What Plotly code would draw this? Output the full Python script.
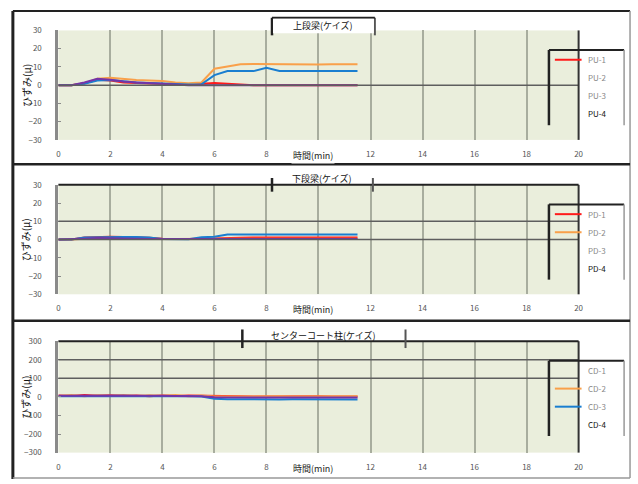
import plotly.graph_objects as go

W, H = 638, 484

# ---------------- data ----------------
time_min = [0, 0.5, 1, 1.5, 2, 2.5, 3, 3.5, 4, 4.5, 5, 5.5, 6, 6.5, 7, 7.5, 8, 8.5, 9, 9.5, 10, 10.5, 11, 11.5]

panel_titles = ["上段梁(ケイズ)", "下段梁(ケイズ)", "センターコート柱(ケイズ)"]
series_names = [["PU-1", "PU-2", "PU-3", "PU-4"],
                ["PD-1", "PD-2", "PD-3", "PD-4"],
                ["CD-1", "CD-2", "CD-3", "CD-4"]]
series_colors = ["#FF1A1A", "#F9A04A", "#1A7ED0", "#7434A8"]

# panel 1 (upper beam)
pu1 = [0, 0, 1.0, 3.0, 2.5, 1.5, 1.2, 1.0, 0.5, 0.3, 0.2, 0.8, 1.2, 0.8, 0.2, 0, 0, 0, 0, 0, 0, 0, 0, 0]
pu2 = [0, 0, 1.0, 3.5, 4.0, 3.2, 2.8, 2.5, 2.3, 1.5, 1.0, 1.5, 9.0, 10.2, 11.5, 11.6, 11.5, 11.4, 11.6, 11.5, 11.3, 11.5, 11.6, 11.5]
pu3 = [0, 0, 0.8, 2.5, 2.8, 2.0, 1.5, 1.2, 0.8, 0.5, 0.3, 0.5, 5.5, 7.7, 7.7, 7.7, 9.5, 7.8, 7.7, 7.7, 7.7, 7.7, 7.7, 7.7]
pu4 = [0, 0, 1.5, 3.5, 3.0, 2.0, 1.5, 1.0, 0.6, 0.3, 0, 0, 0.3, 0, 0, 0, 0, 0, 0, 0, 0, 0, 0, 0]
# panel 2 (lower beam)
pd1 = [0, 0, 1.2, 1.5, 1.5, 1.4, 1.3, 1.0, 0.5, 0.3, 0.3, 0.5, 0.8, 0.8, 1.0, 1.2, 1.2, 1.2, 1.2, 1.2, 1.2, 1.2, 1.2, 1.2]
pd2 = [0, 0, 0.5, 0.8, 0.8, 0.8, 0.5, 0.5, 0.3, 0.3, 0.5, 0.5, 0.5, 0.5, 0.5, 0.5, 0.5, 0.5, 0.5, 0.5, 0.5, 0.5, 0.5, 0.5]
pd3 = [0, 0, 1.2, 1.4, 1.4, 1.4, 1.4, 1.2, 0.3, 0.2, 0.2, 1.3, 1.5, 2.8, 2.8, 2.8, 2.8, 2.8, 2.8, 2.8, 2.8, 2.8, 2.8, 2.8]
pd4 = [0, 0.1, 0.5, 0.8, 0.8, 0.6, 0.5, 0.3, 0.2, 0.2, 0.2, 0.3, 0.3, 0.3, 0.3, 0.3, 0.3, 0.3, 0.3, 0.3, 0.3, 0.3, 0.3, 0.3]
# panel 3 (center column)
cd1 = [8, 5, 10, 6, 9, 5, 8, 4, 7, 5, 8, 6, 3, 2, 3, 2, 3, 2, 3, 2, 3, 2, 3, 2]
cd2 = [5, 10, 4, 9, 6, 10, 5, 9, 6, 10, 4, 8, 2, 3, 2, 3, 2, 3, 2, 3, 2, 3, 2, 3]
cd3 = [3, 4, 5, 3, 4, 5, 3, 4, 5, 3, 4, 2, -10, -12, -13, -13, -14, -14, -13, -14, -14, -13, -14, -14]
cd4 = [6, 7, 8, 6, 7, 8, 6, 7, 6, 5, 6, 3, -2, -3, -3, -3, -3, -3, -3, -3, -3, -3, -3, -3]

panel_series = [[pu1, pu2, pu3, pu4], [pd1, pd2, pd3, pd4], [cd1, cd2, cd3, cd4]]

y_ranges = [[-30, 30], [-30, 30], [-300, 300]]
y_ticks = [[-30, -20, -10, 0, 10, 20, 30], [-30, -20, -10, 0, 10, 20, 30],
           [-300, -200, -100, 0, 100, 200, 300]]
h_lines = [[0], [10, 0], [200, 100]]
x_ticks = [0, 2, 4, 6, 8, 10, 12, 14, 16, 18, 20]
x_tick_labels = ["0", "2", "4", "6", "8", "", "12", "14", "16", "18", "20"]  # "10" hidden under axis title
legend_visible = [[0], [0, 1], [1, 2]]   # which legend entries show a line sample

x_title = "時間(min)"
y_title = "ひずみ(μ)"

# ---------------- layout geometry (pixels) ----------------
def px(x):
    return x / W

def py(y):
    return 1 - y / H

plot_left, plot_right = 57, 583
panel_tops = [25, 183, 343]
panel_bottoms = [137, 295, 457]

FONT = "Noto Sans CJK JP, Liberation Sans, sans-serif"

fig = go.Figure()
shapes = []
annotations = []

for i in range(3):
    sfx = "" if i == 0 else str(i + 1)
    xa, ya = "x" + sfx, "y" + sfx
    for k in range(4):
        fig.add_trace(go.Scatter(
            x=time_min, y=panel_series[i][k], mode="lines", name=series_names[i][k],
            line=dict(color=series_colors[k], width=2), xaxis=xa, yaxis=ya, showlegend=False))
    fig.layout["xaxis" + sfx] = dict(
        domain=[px(plot_left), px(plot_right)], range=[0, 20], tickvals=x_ticks, ticktext=x_tick_labels,
        showgrid=True, gridcolor="#A8AD9E", gridwidth=1.5, zeroline=False,
        showline=False, ticks="", anchor=ya,
        tickfont=dict(size=8, color="#555", family=FONT), ticklabelstandoff=8)
    fig.layout["yaxis" + sfx] = dict(
        domain=[py(panel_bottoms[i]), py(panel_tops[i])], range=y_ranges[i], tickvals=y_ticks[i],
        showgrid=False, zeroline=False, showline=True, linecolor="#8A8A8A", linewidth=3,
        ticks="inside", ticklen=3, tickcolor="#8A8A8A", anchor=xa,
        tickfont=dict(size=8, color="#555", family=FONT), ticklabelstandoff=12)
    # horizontal reference lines
    for hv in h_lines[i]:
        shapes.append(dict(type="line", xref=xa + " domain", yref=ya, x0=0, x1=1, y0=hv, y1=hv,
                           line=dict(color="#5E5E5E", width=1.5), layer="above"))
    # right border of plot
    shapes.append(dict(type="line", xref="paper", yref="paper", x0=px(plot_right), x1=px(plot_right),
                       y0=py(panel_bottoms[i]), y1=py(panel_tops[i]), line=dict(color="#333", width=2)))
    if i > 0:
        shapes.append(dict(type="line", xref="paper", yref="paper", x0=px(plot_left), x1=px(plot_right),
                           y0=py(panel_tops[i]), y1=py(panel_tops[i]), line=dict(color="#222", width=2)))
    # y axis title
    annotations.append(dict(text=y_title, xref="paper", yref="paper", x=px(24),
                            y=py((panel_tops[i] + panel_bottoms[i]) / 2), xanchor="center", yanchor="middle",
                            textangle=-90, showarrow=False,
                            font=dict(size=10, color="#111", family=FONT)))
    # x axis title
    annotations.append(dict(text=x_title, xref="paper", yref="paper", x=px(314),
                            y=py(panel_bottoms[i] + 16), xanchor="center", yanchor="middle",
                            showarrow=False, bgcolor="white",
                            font=dict(size=9, color="#222", family=FONT)))
    # legend box
    top = panel_tops[i]
    lt, lb = top + 20, top + 97
    shapes.append(dict(type="line", xref="paper", yref="paper", x0=px(553), x1=px(553),
                       y0=py(lt), y1=py(lb), line=dict(color="#222", width=2.5)))
    shapes.append(dict(type="line", xref="paper", yref="paper", x0=px(553), x1=px(629),
                       y0=py(lt), y1=py(lt), line=dict(color="#222", width=2)))
    shapes.append(dict(type="line", xref="paper", yref="paper", x0=px(629), x1=px(629),
                       y0=py(lt), y1=py(lb), line=dict(color="#999", width=1.5)))
    for k in range(4):
        ey = top + 30 + k * 18.5
        if k in legend_visible[i]:
            shapes.append(dict(type="line", xref="paper", yref="paper", x0=px(559), x1=px(586),
                               y0=py(ey), y1=py(ey), line=dict(color=series_colors[k], width=2)))
        annotations.append(dict(text=series_names[i][k], xref="paper", yref="paper", x=px(590), y=py(ey),
                                xanchor="left", yanchor="middle", showarrow=False,
                                font=dict(size=8, color="#111" if k == 3 else "#888", family=FONT)))

# title boxes
title_boxes = [(273, 377, 12, 30, 20), (273, 375, 176, 190, 177), (243, 408, 331, 350, 337)]
for i, (x0, x1, y0, y1, ty) in enumerate(title_boxes):
    shapes.append(dict(type="line", xref="paper", yref="paper", x0=px(x0), x1=px(x0),
                       y0=py(y0), y1=py(y1), line=dict(color="#222", width=2.5)))
    shapes.append(dict(type="line", xref="paper", yref="paper", x0=px(x1), x1=px(x1),
                       y0=py(y0), y1=py(y1), line=dict(color="#555", width=2)))
    if i == 0:
        shapes.append(dict(type="line", xref="paper", yref="paper", x0=px(x0), x1=px(x1),
                           y0=py(y0), y1=py(y0), line=dict(color="#222", width=2)))
        shapes.append(dict(type="rect", xref="paper", yref="paper", x0=px(x0 + 1), x1=px(x1 - 1),
                           y0=py(y1 - 2), y1=py(y0 + 1), fillcolor="white", line=dict(width=0)))
    annotations.append(dict(text=panel_titles[i], xref="paper", yref="paper", x=px((x0 + x1) / 2),
                            y=py(ty), xanchor="center", yanchor="middle", showarrow=False,
                            font=dict(size=9, color="#111", family=FONT)))

# outer frame and dividers
shapes.append(dict(type="line", xref="paper", yref="paper", x0=px(11), x1=px(11), y0=py(5), y1=py(484),
                   line=dict(color="#222", width=3)))
shapes.append(dict(type="line", xref="paper", yref="paper", x0=px(11), x1=px(635), y0=py(5), y1=py(5),
                   line=dict(color="#222", width=2)))
shapes.append(dict(type="line", xref="paper", yref="paper", x0=px(635), x1=px(635), y0=py(5), y1=py(483),
                   line=dict(color="#999", width=1.5)))
for yy in (162, 322):
    shapes.append(dict(type="line", xref="paper", yref="paper", x0=px(11), x1=px(635), y0=py(yy), y1=py(yy),
                       line=dict(color="#222", width=2.5)))
shapes.append(dict(type="line", xref="paper", yref="paper", x0=px(11), x1=px(635), y0=py(483), y1=py(483),
                   line=dict(color="#999", width=1.5)))

fig.update_layout(
    width=W, height=H, margin=dict(l=0, r=0, t=0, b=0),
    paper_bgcolor="white", plot_bgcolor="#EAEEDC",
    shapes=shapes, annotations=annotations, showlegend=False,
    font=dict(family=FONT),
)
fig.write_html("out.html")
